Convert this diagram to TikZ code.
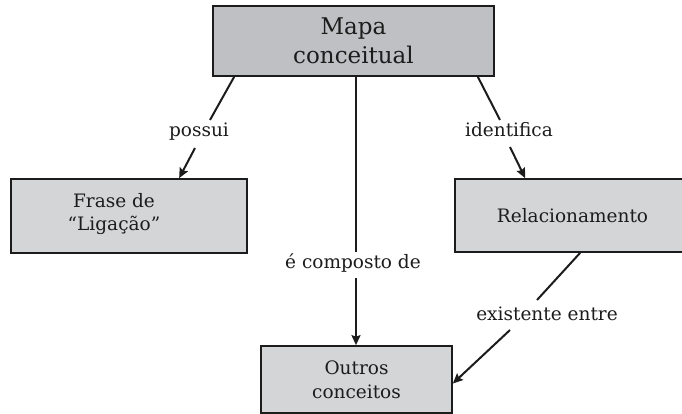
\documentclass[tikz,border=0pt]{standalone}
\usepackage{fontspec}
\setmainfont{DejaVu Serif}
\usetikzlibrary{arrows.meta,calc}
\definecolor{topfill}{RGB}{191,192,195}
\definecolor{boxfill}{RGB}{212,213,215}
\definecolor{ink}{RGB}{28,28,28}
\begin{document}
\begin{tikzpicture}[x=1pt,y=-1pt,
  box/.style={draw=ink, line width=1.7pt, fill=boxfill, inner sep=0pt, text=ink,
              align=center, font=\fontsize{18.5}{24}\selectfont},
  topbox/.style={box, fill=topfill, font=\fontsize{23}{29}\selectfont},
  lbl/.style={font=\fontsize{18.5}{22}\selectfont, text=ink, inner sep=0pt, align=center},
  conn/.style={draw=ink, line width=2pt},
  arr/.style={conn, -{Stealth[length=10pt,width=9pt,inset=1.5pt]}}]
\useasboundingbox (0,0) rectangle (682,414);
% boxes
\node[topbox, minimum width=281pt, minimum height=70pt] (top) at (353.5,41) {Mapa\\conceitual};
\node[box, minimum width=236pt, minimum height=74pt] (frase) at (129,216) {};
\node[lbl, font=\fontsize{18.5}{23}\selectfont] (frasetext) at (114,214) {Frase de\\“Ligação”};
\node[box, minimum width=235pt, minimum height=73pt] (rel) at (572.5,215.5) {Relacionamento};
\node[box, minimum width=191pt, minimum height=67pt] (outros) at (356.5,379.5) {Outros\\conceitos};
% link labels
\node[lbl] (possui) at (199,132) {possui};
\node[lbl] (ident) at (509,130) {identifica};
\node[lbl] (comp) at (353,263) {é composto de};
\node[lbl] (exist) at (547,314) {existente entre};
% connectors
\draw[conn] ($(top.south west)+(22,0)$) -- ($(possui.center)+(11,-12)$);
\draw[arr] ($(possui.center)+(-4,16)$) -- ($(frase.north west)+(169,0)$);
\draw[conn] ($(top.south east)+(-17,0)$) -- ($(ident.center)+(-9,-10)$);
\draw[arr] ($(ident.center)+(1,17)$) -- ($(rel.north west)+(71,0)$);
\draw[conn] ($(top.south)+(2.5,0)$) -- ($(comp.center)+(3,-11)$);
\draw[arr] ($(comp.center)+(3,15)$) -- ($(outros.north)+(-0.5,0)$);
\draw[conn] ($(rel.south west)+(126,0)$) -- ($(exist.center)+(-10,-14)$);
\draw[arr] ($(exist.center)+(-37,16)$) -- ($(outros.east)+(0,4)$);
\end{tikzpicture}
\end{document}
